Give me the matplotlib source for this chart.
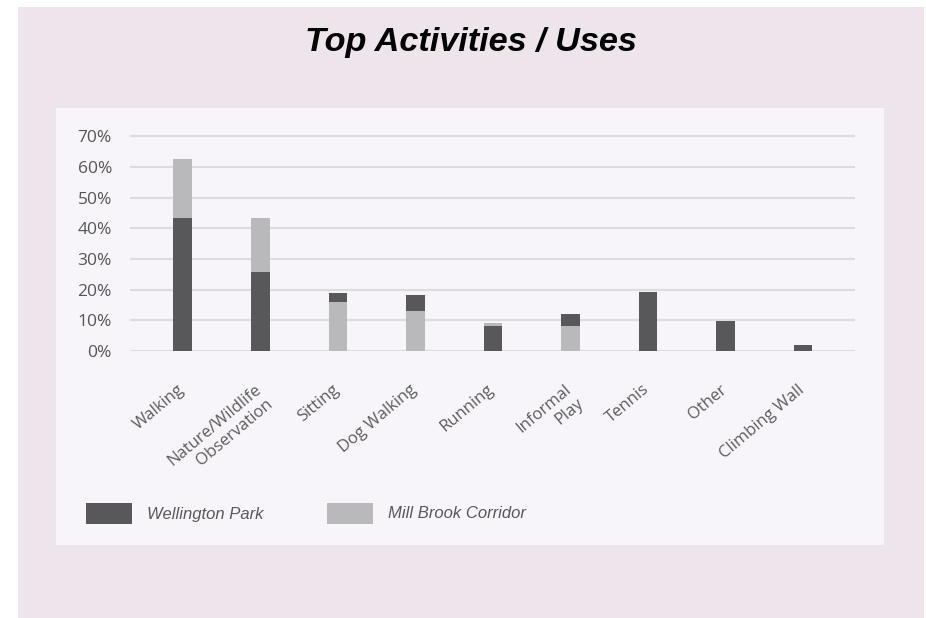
import matplotlib
matplotlib.use("Agg")
import matplotlib.pyplot as plt
import matplotlib.transforms as mtransforms
from matplotlib.patches import Rectangle

# values (percent of respondents)
activities = ["Walking", "Nature/Wildlife\nObservation", "Sitting", "Dog Walking",
              "Running", "Informal\nPlay", "Tennis", "Other", "Climbing Wall"]
wellington = [43.4, 25.7, 19.0, 18.1, 8.0, 12.1, 19.1, 9.9, 2.0]
mill_brook = [62.4, 43.4, 16.0, 13.1, 9.2, 8.0, 0, 0, 0]
yticks = [0, 10, 20, 30, 40, 50, 60, 70]

dark = "#58585a"
light = "#b9b9bb"
pink = "#eee4ec"
panel = "#f7f5f9"
W, H = 926, 618


def box(x0, y0, x1, y1):
  # pixel box (top-left origin) -> figure fraction rect
  return (x0 / W, 1 - y1 / H, (x1 - x0) / W, (y1 - y0) / H)


fig = plt.figure(figsize=(W / 100, H / 100), dpi=100, facecolor="white")
for (x0, y0, x1, y1), col in [((18, 7, 924, 618), pink), ((56, 108, 884, 545), panel)]:
  l, b, w, h = box(x0, y0, x1, y1)
  fig.patches.append(Rectangle((l, b), w, h, transform=fig.transFigure,
                               facecolor=col, edgecolor="none", zorder=-2))

ax = fig.add_axes(box(130, 130, 855, 351))
ax.set_zorder(5)
ax.set_facecolor("none")

x = list(range(len(activities)))
bw = 0.24
wb = ax.bar(x, wellington, width=bw, color=dark, label="Wellington Park")
mb = ax.bar(x, mill_brook, width=bw, color=light, label="Mill Brook Corridor")
# the smaller of the two sits in front
for i in x:
  if wellington[i] <= mill_brook[i]:
    wb[i].set_zorder(4); mb[i].set_zorder(3)
  else:
    wb[i].set_zorder(3); mb[i].set_zorder(4)

ax.set_xlim(-0.68, 8.67)
ax.set_ylim(0, 72)
ax.set_yticks(yticks)
ax.set_yticklabels([f"{v}%" for v in yticks], fontfamily="Open Sans",
                   fontsize=12.5, color="#555555")
ax.yaxis.grid(True, color="#dcdbe0", linewidth=1.5, zorder=1)
ax.set_axisbelow(True)
ax.tick_params(axis="y", length=0, pad=13)
ax.tick_params(axis="x", length=0, pad=22)
for s in ax.spines.values():
  s.set_visible(False)

ax.set_xticks(x)
ax.set_xticklabels(activities, rotation=40, ha="right", rotation_mode="anchor",
                   fontfamily="Open Sans", fontsize=12, color="#5c5c5e",
                   multialignment="right")
shift = mtransforms.ScaledTranslation(-6 / 100, 0, fig.dpi_scale_trans)
for lab in ax.get_xticklabels():
  lab.set_transform(lab.get_transform() + shift)

fig.text(0.509, 1 - 43 / H, "Top Activities / Uses", ha="center", va="center",
         fontfamily="Liberation Sans", fontweight="bold", fontstyle="italic",
         fontsize=24.7, color="black")

# legend
for (px, tx, col, name) in [(86, 147, dark, "Wellington Park"),
                             (327, 388, light, "Mill Brook Corridor")]:
  l, b, w, h = box(px, 503, px + 46, 524)
  fig.patches.append(Rectangle((l, b), w, h, transform=fig.transFigure,
                               facecolor=col, edgecolor="none", zorder=2))
  fig.text(tx / W, 1 - 514 / H, name, ha="left", va="center",
           fontfamily="Liberation Sans", fontstyle="italic", fontsize=12,
           color=dark)

fig.savefig("out.png", dpi=100, facecolor=fig.get_facecolor())
